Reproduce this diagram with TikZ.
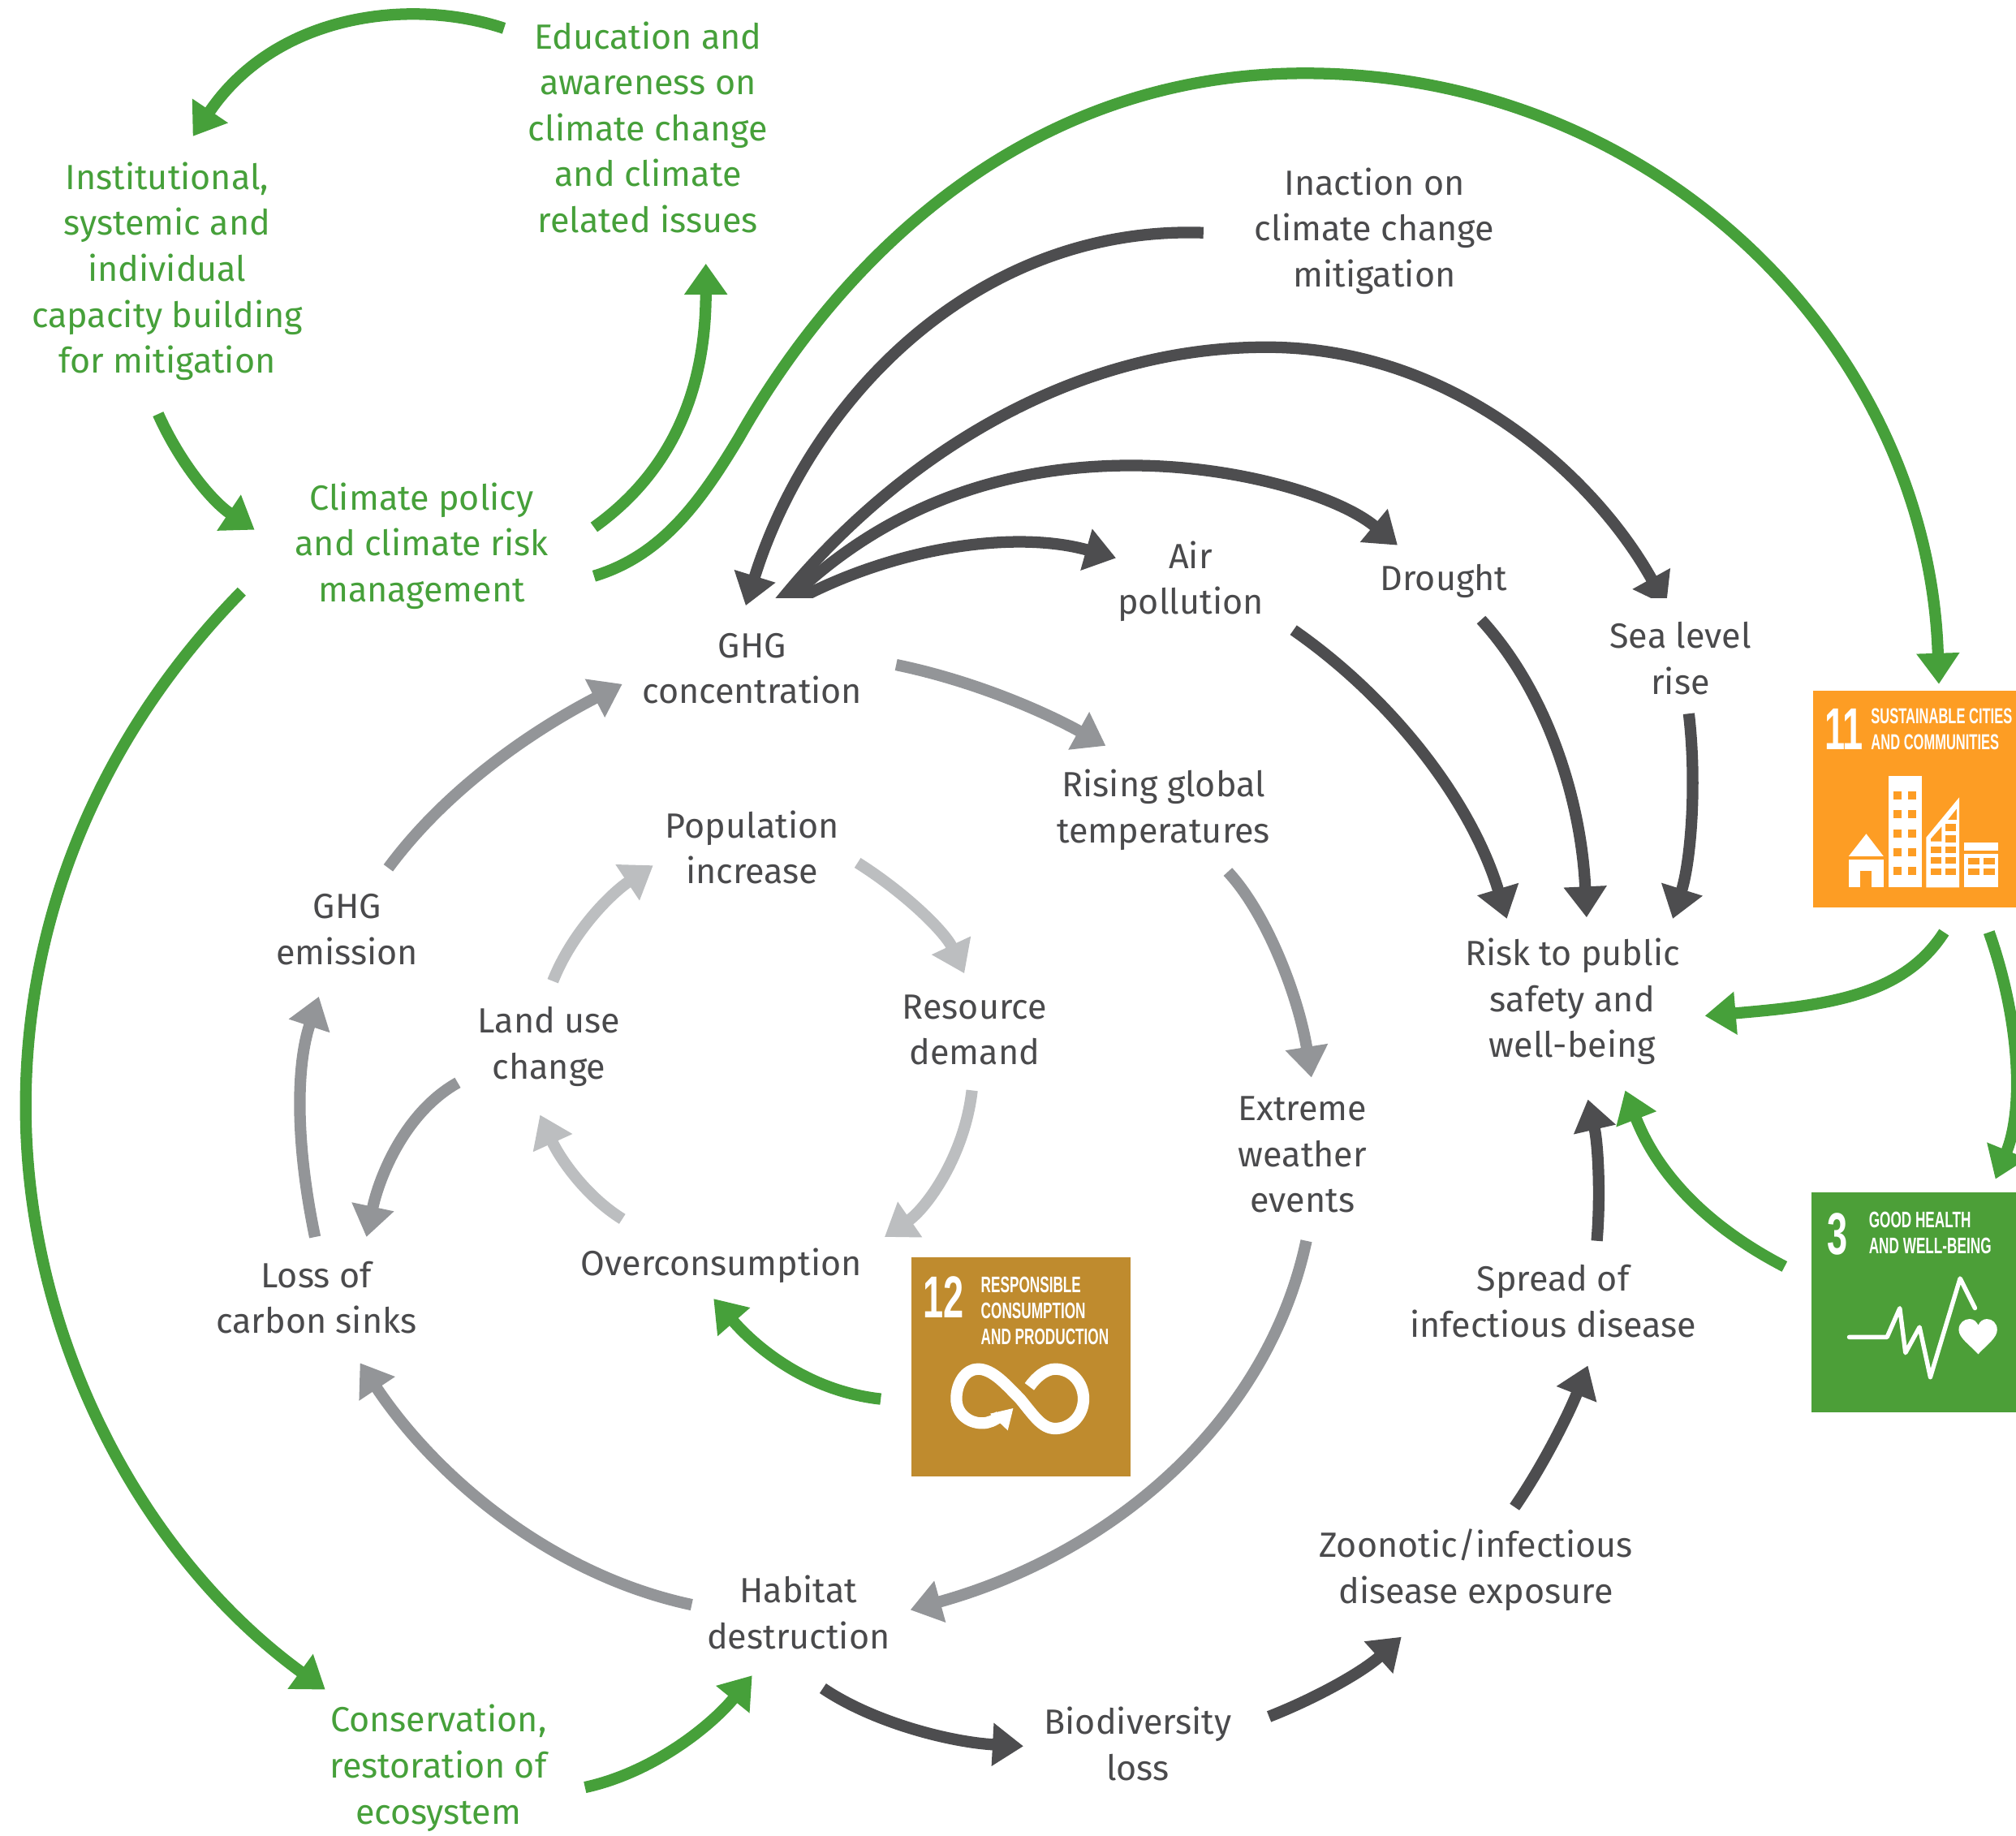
\documentclass[tikz,border=0pt]{standalone}
\usepackage{fontspec}
\setmainfont{Fira Sans}
\newfontfamily\sdgfont[FakeStretch=0.62]{Liberation Sans}
\usetikzlibrary{arrows.meta}
\definecolor{gr}{HTML}{46A03A}
\definecolor{txt}{HTML}{4A4A4C}
\definecolor{dk}{HTML}{4D4D4F}
\definecolor{md}{HTML}{939598}
\definecolor{lt}{HTML}{BCBEC0}
\definecolor{sdgor}{HTML}{FD9D24}
\definecolor{sdggr}{HTML}{4C9F38}
\definecolor{sdgbr}{HTML}{BF8B2E}
\tikzset{
 lab/.style={align=center,inner sep=0pt,text=txt,font=\fontsize{27.2}{35.7}\selectfont},
 glab/.style={lab,text=gr},
 conn/.style={line width=9pt,-{Triangle[length=24pt,width=32pt]}},
 garrow/.style={conn,draw=gr,color=gr},
 darrow/.style={conn,color=dk},
 marrow/.style={conn,color=md},
 larrow/.style={conn,color=lt},
 sdgbox/.style={inner sep=0pt,outer sep=0pt,draw=none},
 sdgnum/.style={inner sep=0pt,text=white,anchor=west,font=\sdgfont\bfseries\fontsize{46}{46}\selectfont},
 sdgtxt/.style={inner sep=0pt,text=white,anchor=west,align=left,font=\sdgfont\bfseries\fontsize{17.5}{20}\selectfont},
 sdgtxtb/.style={sdgtxt,font=\sdgfont\bfseries\fontsize{16.8}{20}\selectfont},
}
\begin{document}
\begin{tikzpicture}[x=1pt,y=-1pt]
\useasboundingbox (0,0) rectangle (1568,1427.3);
% text nodes
\node[glab] (edu) at (504,99) {Education and\\awareness on\\climate change\\and climate\\related issues};
\node[glab] (inst) at (130,211) {Institutional,\\systemic and\\individual\\capacity building\\for mitigation};
\node[lab] (inact) at (1069,179.5) {Inaction on\\climate change\\mitigation};
\node[glab] (pol) at (328,424.5) {Climate policy\\and climate risk\\management};
\node[lab] (conc) at (585,520) {GHG\\concentration};
\node[lab] (air) at (926,452) {Air\\pollution};
\node[lab] (dro) at (1123,452) {Drought};
\node[lab] (sea) at (1307,512) {Sea level\\rise};
\node[lab] (ris) at (905,630) {Rising global\\temperatures};
\node[lab] (pop) at (585,659) {Population\\increase};
\node[lab] (res) at (758,801) {Resource\\demand};
\node[lab] (emi) at (270,723) {GHG\\emission};
\node[lab] (lan) at (427,814) {Land use\\change};
\node[lab] (risk) at (1223,779) {Risk to public\\safety and\\well-being};
\node[lab] (ext) at (1013,898) {Extreme\\weather\\events};
\node[lab] (ove) at (561,984) {Overconsumption};
\node[lab] (los) at (246,1009) {Loss of\\carbon sinks};
\node[lab] (spr) at (1208,1012) {Spread of\\infectious disease};
\node[lab] (zoo) at (1148,1221) {Zoonotic/infectious\\disease exposure};
\node[lab] (hab) at (621,1254) {Habitat\\destruction};
\node[lab] (bio) at (885,1356) {Biodiversity\\loss};
\node[glab] (con) at (341,1375) {Conservation,\\restoration of\\ecosystem};
% SDG boxes
\node[sdgbox,fill=sdgor,minimum width=158pt,minimum height=169pt] (sdg11) at (1489,621.5) {};
\node[sdgbox,fill=sdggr,minimum width=159pt,minimum height=171pt] (sdg3) at (1488.5,1013) {};
\node[sdgbox,fill=sdgbr,minimum width=170.5pt,minimum height=170pt] (sdg12) at (794.2,1063) {};
% SDG 11 icon
\begin{scope}[shift={(1388.8,517.6)},x=0.2104pt,y=-0.2104pt]
\node[sdgnum] (n11) at (143,235) {11};
\node[sdgtxtb] (t11) at (315,235) {SUSTAINABLE CITIES\\AND COMMUNITIES};
\fill[white] (233,705)--(298,622)--(362,705)--cycle;
\fill[white] (233,718) rectangle (362,820);
\fill[sdgor] (275,760) rectangle (318,820);
\fill[white] (380,408) rectangle (503,820);
\foreach \yy in {465,535,605,675,745}{
  \fill[sdgor] (400,\yy) rectangle ++(30,30);
  \fill[sdgor] (453,\yy) rectangle ++(30,30);}
\fill[white] (520,820)--(520,635)--(642,487)--(642,820)--cycle;
\foreach \yy in {668,708,750}{
  \fill[sdgor] (537,\yy) rectangle ++(40,25);
  \fill[sdgor] (590,\yy) rectangle ++(40,25);}
\fill[sdgor] (590,585) rectangle ++(40,27);
\fill[sdgor] (590,628) rectangle ++(40,25);
\fill[sdgor] (600,570)--(632,530)--(632,570)--cycle;
\fill[sdgor] (537,640)--(577,595)--(577,650)--(537,650)--cycle;
\fill[white] (660,655) rectangle (787,685);
\fill[white] (660,695) rectangle (787,820);
\foreach \xx/\yy in {675/710,732/710,675/750,732/750}{
  \fill[sdgor] (\xx,\yy) rectangle ++(41,25);}
\end{scope}
% SDG 3 icon
\begin{scope}[shift={(1388.8,909)},x=0.2104pt,y=-0.2104pt]
\node[sdgnum] (n3) at (152,240) {3};
\node[sdgtxt] (t3) at (307,236) {GOOD HEALTH\\AND WELL-BEING};
\draw[white,line width=3.4pt,line join=round,line cap=round] (235,622)--(375,622)--(422,515)--(443,680)--(495,585)--(535,770)--(645,405)--(700,515);
\fill[white] (712,685) .. controls (680,650) and (640,625) .. (640,595) .. controls (640,570) and (660,555) .. (680,555) .. controls (695,555) and (706,565) .. (712,578) .. controls (718,565) and (729,555) .. (744,555) .. controls (764,555) and (782,570) .. (782,595) .. controls (782,625) and (744,650) .. (712,685) -- cycle;
\end{scope}
% SDG 12 icon
\begin{scope}[shift={(694.4,965.8)},x=0.2104pt,y=-0.2104pt]
\node[sdgnum] (n12) at (112,205) {12};
\node[sdgtxt] (t12) at (325,255) {RESPONSIBLE\\CONSUMPTION\\AND PRODUCTION};
\draw[white,line width=9pt] (505,535) .. controls (530,500) and (565,470) .. (600,470) .. controls (660,470) and (705,520) .. (705,580) .. controls (705,640) and (660,690) .. (600,690) .. controls (550,690) and (520,640) .. (470,580) .. controls (420,530) and (370,470) .. (315,470) .. controls (270,470) and (235,520) .. (235,580) .. controls (235,635) and (280,670) .. (330,670) .. controls (355,670) and (375,660) .. (395,645);
\fill[white] (360,635)--(445,615)--(425,697)--cycle;
\end{scope}
% green connectors
\draw[garrow] ([shift={(-112,-77)}]edu.center) .. controls (320,-2) and (215,10) .. ([shift={(20,-105)}]inst.center);
\draw[garrow] ([shift={(-7,111)}]inst.center) .. controls (140,360) and (165,390) .. ([shift={(-130,-12.5)}]pol.center);
\draw[garrow] ([shift={(134,-14.5)}]pol.center) .. controls (525,365) and (549,300) .. ([shift={(45,106)}]edu.center);
\draw[garrow] ([shift={(134,23.5)}]pol.center) .. controls (515,432) and (545,390) .. (575,340) .. controls (640,225) and (780,57) .. (1015,57) .. controls (1290,57) and (1500,270) .. ([shift={(19,-89.5)}]sdg11.center);
\draw[garrow] ([shift={(-140,35.5)}]pol.center) .. controls (80,570) and (20,710) .. (20,860) .. controls (20,1040) and (110,1210) .. ([shift={(-88,-61)}]con.center);
\draw[garrow] ([shift={(114,15)}]con.center) .. controls (510,1378) and (555,1340) .. ([shift={(-36,49)}]hab.center);
\draw[garrow] ([shift={(-109.2,25)}]sdg12.center) .. controls (630,1082) and (590,1050) .. ([shift={(-6,26)}]ove.center);
\draw[garrow] ([shift={(23,103.5)}]sdg11.center) .. controls (1480,775) and (1420,782) .. ([shift={(103,11)}]risk.center);
\draw[garrow] ([shift={(58,103.5)}]sdg11.center) .. controls (1570,790) and (1575,860) .. ([shift={(63.5,-96)}]sdg3.center);
\draw[garrow] ([shift={(-100.5,-28)}]sdg3.center) .. controls (1330,955) and (1290,915) .. ([shift={(41,69)}]risk.center);
% dark connectors
\draw[darrow] ([shift={(-133,1.5)}]inact.center) .. controls (760,175) and (630,310) .. ([shift={(-5,-49)}]conc.center);
\begin{scope}
\clip (0,0) rectangle (1568,465);
\draw[darrow] ([shift={(20,-50)}]conc.center) .. controls (685,370) and (820,270) .. (985,270) .. controls (1130,270) and (1240,370) .. ([shift={(-11,-41)}]sea.center);
\draw[darrow] ([shift={(25,-50)}]conc.center) .. controls (680,400) and (770,362) .. (880,362) .. controls (960,362) and (1040,385) .. ([shift={(-36,-28)}]dro.center);
\draw[darrow] ([shift={(30,-51)}]conc.center) .. controls (695,425) and (790,412) .. ([shift={(-58,-18)}]air.center);
\end{scope}
\draw[darrow] ([shift={(80,38)}]air.center) .. controls (1085,545) and (1145,625) .. ([shift={(-51,-64.5)}]risk.center);
\draw[darrow] ([shift={(29,30)}]dro.center) .. controls (1205,540) and (1230,625) .. ([shift={(11,-65.5)}]risk.center);
\draw[darrow] ([shift={(6.5,43)}]sea.center) .. controls (1320,610) and (1315,670) .. ([shift={(78,-64.5)}]risk.center);
\draw[darrow] ([shift={(34,-47)}]spr.center) .. controls (1245,930) and (1243,890) .. ([shift={(12,76)}]risk.center);
\draw[darrow] ([shift={(30,-49)}]zoo.center) .. controls (1200,1140) and (1220,1100) .. ([shift={(27,50)}]spr.center);
\draw[darrow] ([shift={(102,-21)}]bio.center) .. controls (1025,1320) and (1060,1300) .. ([shift={(-58,52)}]zoo.center);
\draw[darrow] ([shift={(19,59)}]hab.center) .. controls (680,1340) and (740,1355) .. ([shift={(-89,2)}]bio.center);
% mid grey connectors
\draw[marrow] ([shift={(-83,-6)}]hab.center) .. controls (430,1225) and (340,1150) .. ([shift={(34,51)}]los.center);
\draw[marrow] ([shift={(3,67)}]ext.center) .. controls (985,1110) and (860,1210) .. ([shift={(87,-2)}]hab.center);
\draw[marrow] ([shift={(50,48)}]ris.center) .. controls (985,710) and (1010,775) .. ([shift={(7,-60)}]ext.center);
\draw[marrow] ([shift={(112,-3)}]conc.center) .. controls (760,530) and (815,555) .. ([shift={(-45,-50)}]ris.center);
\draw[marrow] ([shift={(32,-48)}]emi.center) .. controls (350,610) and (420,565) .. ([shift={(-101,12)}]conc.center);
\draw[marrow] ([shift={(-1,-47)}]los.center) .. controls (230,890) and (230,830) .. ([shift={(-22,52)}]emi.center);
\draw[marrow] ([shift={(-71,28)}]lan.center) .. controls (315,865) and (295,915) .. ([shift={(39,-47)}]los.center);
% light connectors
\draw[larrow] ([shift={(3,-51)}]lan.center) .. controls (445,725) and (475,695) .. ([shift={(-77,14)}]pop.center);
\draw[larrow] ([shift={(82,12)}]pop.center) .. controls (705,695) and (735,725) .. ([shift={(-8,-44)}]res.center);
\draw[larrow] ([shift={(-2,47)}]res.center) .. controls (750,900) and (720,940) .. ([shift={(127,-22)}]ove.center);
\draw[larrow] ([shift={(-77,-36)}]ove.center) .. controls (455,930) and (435,900) .. ([shift={(-7,53)}]lan.center);
\end{tikzpicture}
\end{document}
